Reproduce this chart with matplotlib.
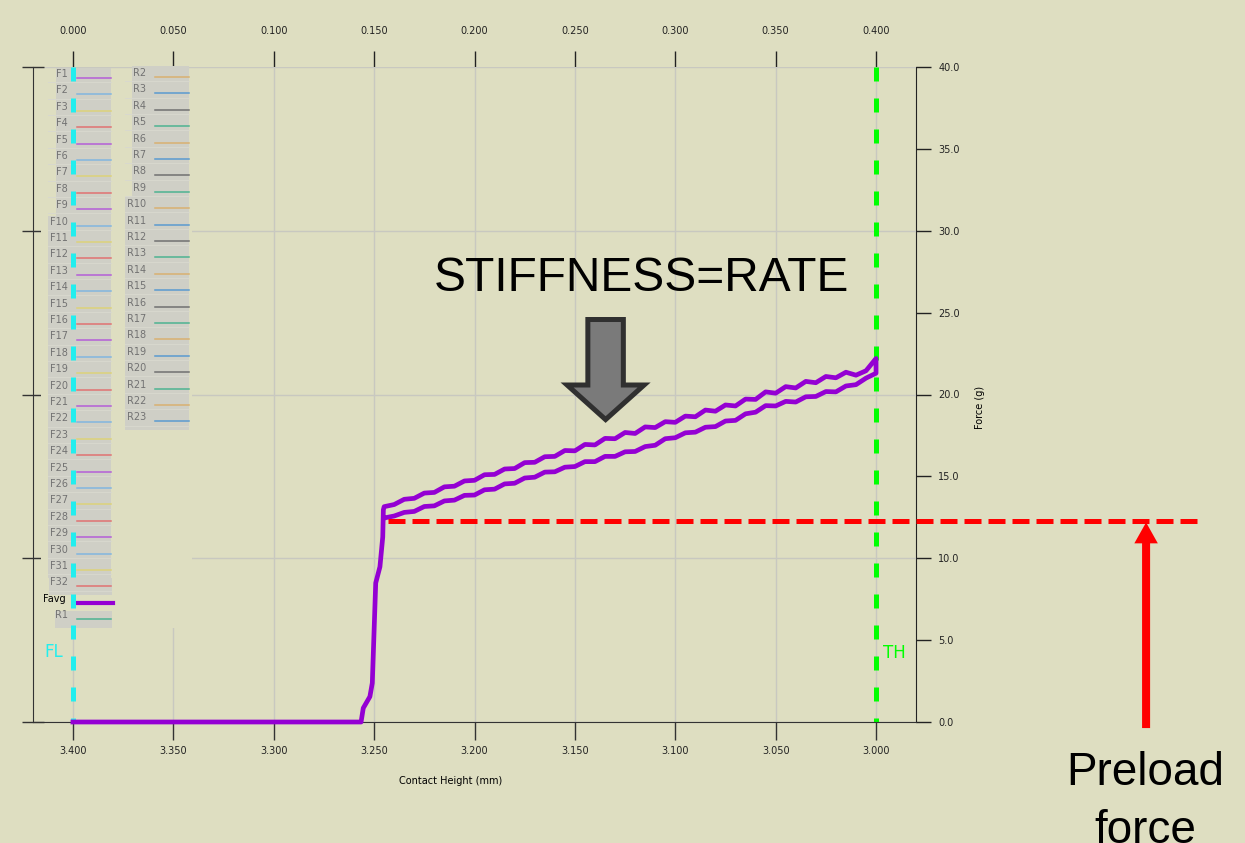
import matplotlib.pyplot as plt
from matplotlib.patches import Rectangle, FancyArrow
from matplotlib.lines import Line2D

# ==================================================
# Data
# ==================================================
# approach: flat at zero force, then the jump at first contact
approach_mm = [3.400, 3.2565, 3.2554, 3.2521, 3.2509, 3.2492, 3.2471, 3.2457, 3.2454]
approach_g = [0.0, 0.0, 0.85, 1.55, 2.38, 8.49, 9.48, 11.30, 12.95]

# contact height grid for the two branches of the loop
height_mm = [3.245, 3.240, 3.235, 3.230, 3.225, 3.220, 3.215, 3.210, 3.205, 3.200,
             3.195, 3.190, 3.185, 3.180, 3.175, 3.170, 3.165, 3.160, 3.155, 3.150,
             3.145, 3.140, 3.135, 3.130, 3.125, 3.120, 3.115, 3.110, 3.105, 3.100,
             3.095, 3.090, 3.085, 3.080, 3.075, 3.070, 3.065, 3.060, 3.055, 3.050,
             3.045, 3.040, 3.035, 3.030, 3.025, 3.020, 3.015, 3.010, 3.005, 3.000]

upper_g = [13.15, 13.28, 13.60, 13.66, 13.98, 14.02, 14.36, 14.40, 14.72, 14.76,
           15.10, 15.12, 15.45, 15.48, 15.84, 15.86, 16.20, 16.22, 16.58, 16.56,
           16.95, 16.92, 17.32, 17.30, 17.68, 17.62, 18.02, 17.98, 18.34, 18.30,
           18.68, 18.64, 19.05, 18.98, 19.36, 19.30, 19.72, 19.70, 20.16, 20.08,
           20.48, 20.40, 20.80, 20.72, 21.10, 21.02, 21.36, 21.18, 21.45, 22.20]

lower_g = [12.46, 12.58, 12.80, 12.86, 13.16, 13.20, 13.50, 13.55, 13.84, 13.86,
           14.18, 14.22, 14.54, 14.58, 14.90, 14.95, 15.26, 15.28, 15.56, 15.60,
           15.90, 15.90, 16.22, 16.22, 16.50, 16.52, 16.82, 16.90, 17.30, 17.36,
           17.66, 17.70, 18.00, 18.04, 18.38, 18.42, 18.82, 18.92, 19.32, 19.30,
           19.58, 19.54, 19.86, 19.88, 20.18, 20.16, 20.52, 20.60, 21.00, 21.30]

preload_g = 12.26
preload_start_mm = 3.243
preload_end_mm = 2.8386
preload_arrow_mm = 2.8655
fl_mm = 3.400
th_mm = 3.000

x_ticks = [3.40, 3.35, 3.30, 3.25, 3.20, 3.15, 3.10, 3.05, 3.00]
top_ticks = [0.000, 0.050, 0.100, 0.150, 0.200, 0.250, 0.300, 0.350, 0.400]
force_ticks = [0.0, 5.0, 10.0, 15.0, 20.0, 25.0, 30.0, 35.0, 40.0]
grid_force = [0, 10, 20, 30, 40]

f_labels = ["F%d" % i for i in range(1, 33)]
f_colors = ["#B45ED8", "#82B6E0", "#DDD27A", "#E07272"]
r_labels = ["R%d" % i for i in range(1, 24)]
r_colors = ["#4DB391", "#D9B070", "#5A9AD0", "#707070"]

# ==================================================
# Figure setup
# ==================================================
W, H = 1245, 843
BG = "#DEDEC1"
plt.rcParams["font.family"] = ["DejaVu Sans"]

fig = plt.figure(figsize=(W / 100, H / 100), dpi=100, facecolor=BG)
ax = fig.add_axes([33 / W, 1 - 722 / H, (916 - 33) / W, (722 - 67) / H])
ax.set_facecolor(BG)


def fp(x, y):
    # pixel position (from top-left) -> figure fraction
    return x / W, 1 - y / H


ax.set_xlim(3.4199, 2.9801)
ax.set_ylim(0, 40)

ax.set_xticks(x_ticks)
ax.set_xticklabels(["%.3f" % v for v in x_ticks], fontsize=7, color="#222222")
ax.set_yticks(grid_force)
ax.tick_params(axis="x", direction="out", length=13, width=1, color="#333333", pad=4)
ax.tick_params(axis="y", direction="inout", length=16, width=1, color="#333333",
               labelleft=False)
ax.grid(True, color="#C8C8C0", lw=1)
for side in ["top", "right"]:
    ax.spines[side].set_visible(False)
for side in ["left", "bottom"]:
    ax.spines[side].set_color("#333333")

ax.set_xlabel("Contact Height (mm)", fontsize=7)
ax.xaxis.set_label_coords((451 - 33) / 883, -(776 - 722) / 655)

# top axis: travel from the FL position
top = ax.secondary_xaxis("top", functions=(lambda x: 3.4 - x, lambda x: 3.4 - x))
top.set_xticks(top_ticks)
top.set_xticklabels(["%.3f" % v for v in top_ticks], fontsize=7, color="#222222")
top.tick_params(direction="out", length=11.5, width=1, color="#222222", pad=11)
top.spines["top"].set_visible(False)

# right axis: force labels
right = ax.secondary_yaxis("right")
right.set_yticks(force_ticks)
right.set_yticklabels(["%.1f" % v for v in force_ticks], fontsize=7, color="#222222")
right.tick_params(direction="out", length=11, width=1, color="#222222", pad=5)
right.spines["right"].set_color("#222222")
ax.text(1.0725, 0.481, "Force (g)", transform=ax.transAxes, rotation=90,
        fontsize=7, ha="center", va="center")

# ==================================================
# Legend block (hand drawn, as in the source software)
# ==================================================
ax.add_patch(Rectangle(fp(41, 628), 151 / W, 559 / H, transform=fig.transFigure,
                       facecolor=BG, edgecolor="none", zorder=1.6, clip_on=False))
box_color = "#CFCFC6"
for x0, y0, x1, y1 in [(56, 68, 111, 216), (48, 216, 111, 578), (49, 578, 112, 595),
                       (55, 611, 112, 628), (132, 66, 189, 197), (125, 197, 189, 430)]:
    ax.add_patch(Rectangle(fp(x0, y1), (x1 - x0) / W, (y1 - y0) / H,
                           transform=fig.transFigure, facecolor=box_color,
                           edgecolor="none", zorder=1.7, clip_on=False))

row = 16.4
for i, lab in enumerate(f_labels):
    yc = 74 + row * i
    ax.text(*fp(68, yc), lab, transform=fig.transFigure, ha="right", va="center",
            fontsize=7, color="#727272", zorder=1.8)
    ax.add_line(Line2D([77 / W, 111 / W], [1 - (yc + 4) / H] * 2,
                       transform=fig.transFigure, color=f_colors[i % 4], lw=1.1,
                       zorder=1.8, clip_on=False))
    ax.add_line(Line2D([48 / W, 111 / W], [1 - (yc + 8.2) / H] * 2,
                       transform=fig.transFigure, color="#D8D8CE", lw=0.7,
                       zorder=1.75, clip_on=False))

yc = 74 + row * 32
ax.text(*fp(66, yc), "Favg", transform=fig.transFigure, ha="right", va="center",
        fontsize=7, color="black", zorder=1.8)
ax.add_line(Line2D([76 / W, 113 / W], [1 - (yc + 4) / H] * 2, transform=fig.transFigure,
                   color="#9400D3", lw=3, zorder=1.8, clip_on=False))

yc = 74 + row * 33
ax.text(*fp(68, yc), r_labels[0], transform=fig.transFigure, ha="right", va="center",
        fontsize=7, color="#727272", zorder=1.8)
ax.add_line(Line2D([77 / W, 111 / W], [1 - (yc + 4) / H] * 2, transform=fig.transFigure,
                   color=r_colors[0], lw=1.1, zorder=1.8, clip_on=False))

for j, lab in enumerate(r_labels[1:]):
    yc = 73 + row * j
    ax.text(*fp(146, yc), lab, transform=fig.transFigure, ha="right", va="center",
            fontsize=7, color="#727272", zorder=1.8)
    ax.add_line(Line2D([155 / W, 189 / W], [1 - (yc + 4) / H] * 2,
                       transform=fig.transFigure, color=r_colors[(j + 1) % 4], lw=1.1,
                       zorder=1.8, clip_on=False))
    ax.add_line(Line2D([125 / W, 189 / W], [1 - (yc + 8.2) / H] * 2,
                       transform=fig.transFigure, color="#D8D8CE", lw=0.7,
                       zorder=1.75, clip_on=False))

# ==================================================
# FL / TH limit lines
# ==================================================
ax.plot([fl_mm, fl_mm], [40, 0], color="#22EEEE", lw=3.6, dashes=(2.8, 3.4),
        zorder=2, clip_on=False)
ax.plot([th_mm, th_mm], [40, 0], color="#00FF00", lw=3.6, dashes=(2.8, 3.4),
        zorder=2, clip_on=False)
fig.text(*fp(44, 657), "FL", color="#22EEEE", fontsize=12, ha="left", va="baseline")
fig.text(*fp(883, 658), "TH", color="#00FF00", fontsize=12, ha="left", va="baseline")

# ==================================================
# Force curve (approach, loading and unloading branches)
# ==================================================
curve_mm = approach_mm + height_mm + height_mm[::-1]
curve_g = approach_g + upper_g + lower_g[::-1]
ax.plot(curve_mm, curve_g, color="#9400D3", lw=3.4, solid_joinstyle="round",
        zorder=3, clip_on=False)

# preload line and annotation
ax.plot([preload_start_mm, preload_end_mm], [preload_g, preload_g], color="#FF0000",
        lw=3.6, dashes=(3.4, 1.4), zorder=4, clip_on=False)
ax.add_patch(FancyArrow(preload_arrow_mm, -0.37, 0, preload_g - 0.07 + 0.37,
                        width=0.004, head_width=0.0117, head_length=1.28,
                        length_includes_head=True, color="#FF0000", lw=0,
                        zorder=4, clip_on=False))
fig.text(*fp(1145, 785), "Preload", fontsize=33, family="Liberation Sans",
         ha="center", va="baseline")
fig.text(*fp(1145, 843), "force", fontsize=33, family="Liberation Sans",
         ha="center", va="baseline")

# stiffness annotation
fig.text(*fp(641.5, 291), "STIFFNESS=RATE", fontsize=34.5, family="Liberation Sans",
         ha="center", va="baseline")
ax.add_patch(FancyArrow(3.1347, 24.58, 0, 18.47 - 24.58, width=0.01768,
                        head_width=0.03836, head_length=2.11, length_includes_head=True,
                        facecolor="#7A7A7A", edgecolor="#303030", lw=3.6,
                        joinstyle="miter", zorder=5))

fig.savefig("out.png", dpi=100, facecolor=BG)
